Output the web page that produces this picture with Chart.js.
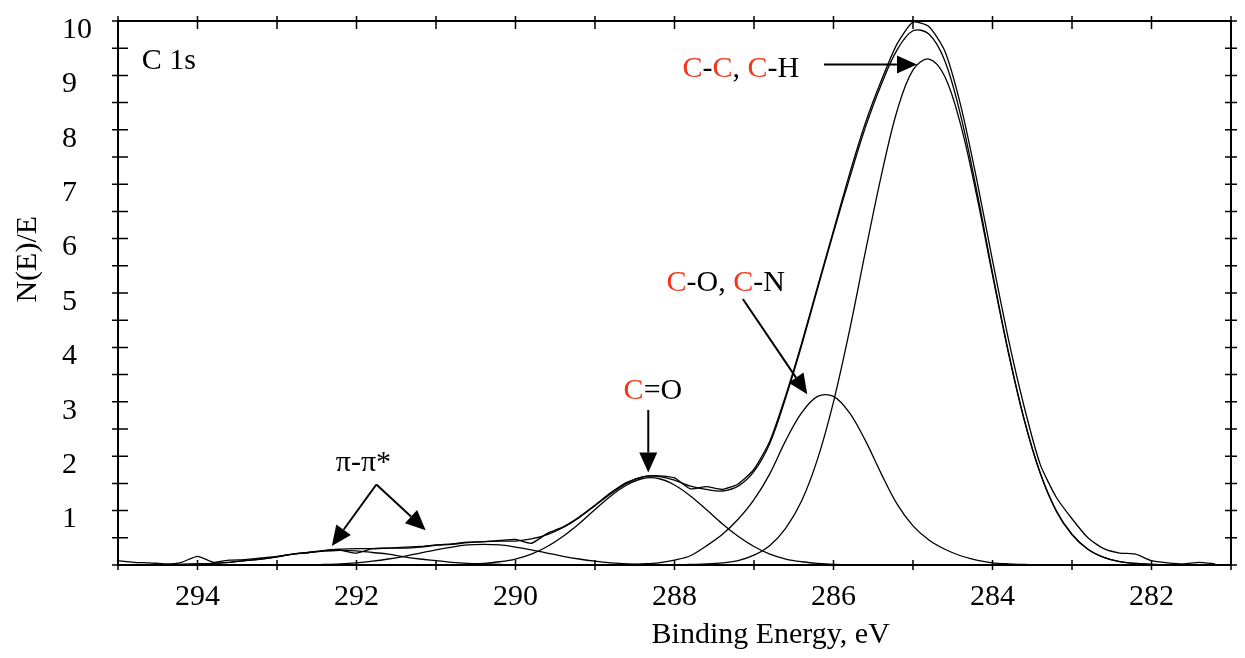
<!DOCTYPE html>
<html>
<head>
<meta charset="utf-8">
<script src="https://cdn.jsdelivr.net/npm/chart.js@4.4.1/dist/chart.umd.min.js"></script>
<style>
  html, body { margin: 0; padding: 0; background: #fff; }
  #wrap { width: 1245px; height: 658px; }
</style>
</head>
<body>
<div id="wrap"><canvas id="xpsChart" width="1245" height="658"></canvas></div>
<script>
// binding energy grid, eV (read every 0.2 eV)
const energies = [
  295.0, 294.8, 294.6, 294.4, 294.2, 294.0, 293.8, 293.6, 293.4, 293.2,
  293.0, 292.8, 292.6, 292.4, 292.2, 292.0, 291.8, 291.6, 291.4, 291.2,
  291.0, 290.8, 290.6, 290.4, 290.2, 290.0, 289.8, 289.6, 289.4, 289.2,
  289.0, 288.8, 288.6, 288.4, 288.2, 288.0, 287.8, 287.6, 287.4, 287.2,
  287.0, 286.8, 286.6, 286.4, 286.2, 286.0, 285.8, 285.6, 285.4, 285.2,
  285.0, 284.8, 284.6, 284.4, 284.2, 284.0, 283.8, 283.6, 283.4, 283.2,
  283.0, 282.8, 282.6, 282.4, 282.2, 282.0, 281.8, 281.6, 281.4, 281.2,
  281.0
];

// measured spectrum
const measured = [
  0.08, 0.05, 0.04, 0.02, 0.05, 0.16, 0.05, 0.09, 0.10, 0.13,
  0.16, 0.20, 0.23, 0.26, 0.27, 0.22, 0.30, 0.31, 0.33, 0.34,
  0.37, 0.39, 0.42, 0.43, 0.45, 0.47, 0.40, 0.58, 0.70, 0.88,
  1.10, 1.33, 1.52, 1.62, 1.64, 1.60, 1.40, 1.44, 1.39, 1.49,
  1.76, 2.28, 3.12, 4.08, 5.12, 6.15, 7.18, 8.12, 8.90, 9.58,
  9.98, 9.90, 9.45, 8.45, 7.10, 5.60, 4.15, 2.90, 1.85, 1.25,
  0.85, 0.50, 0.30, 0.22, 0.20, 0.08, 0.04, 0.02, 0.05, 0.02,
  null
];

// fitted envelope
const envelope = [
  0, 0, 0, 0, 0.01, 0.02, 0.03, 0.05, 0.08, 0.11,
  0.15, 0.20, 0.23, 0.27, 0.29, 0.30, 0.30, 0.31, 0.31, 0.33,
  0.36, 0.38, 0.41, 0.43, 0.44, 0.44, 0.48, 0.56, 0.69, 0.87,
  1.09, 1.31, 1.50, 1.62, 1.63, 1.56, 1.45, 1.39, 1.36, 1.45,
  1.72, 2.24, 3.08, 4.04, 5.08, 6.11, 7.10, 8.04, 8.83, 9.47,
  9.82, 9.76, 9.27, 8.26, 6.89, 5.37, 3.92, 2.67, 1.69, 1.00,
  0.56, 0.29, 0.14, 0.06, 0.03, 0.01, 0, 0, 0, 0,
  0
];

// fitted components
const peakCC = [
  0, 0, 0, 0, 0, 0, 0, 0, 0, 0,
  0, 0, 0, 0, 0, 0, 0, 0, 0, 0,
  0, 0, 0, 0, 0, 0, 0, 0, 0, 0,
  0, 0, 0, 0, 0, 0, 0.01, 0.02, 0.04, 0.08,
  0.18, 0.36, 0.68, 1.18, 1.95, 3.00, 4.30, 5.75, 7.15, 8.35,
  9.10, 9.30, 8.98, 8.09, 6.80, 5.33, 3.90, 2.66, 1.69, 1.00,
  0.56, 0.29, 0.14, 0.06, 0.03, 0.01, 0, 0, 0, 0,
  0
];
const peakCO = [
  0, 0, 0, 0, 0, 0, 0, 0, 0, 0,
  0, 0, 0, 0, 0, 0, 0, 0, 0, 0,
  0, 0, 0, 0, 0, 0, 0, 0, 0, 0,
  0, 0, 0.01, 0.02, 0.04, 0.09, 0.17, 0.35, 0.56, 0.84,
  1.20, 1.68, 2.29, 2.80, 3.10, 3.10, 2.80, 2.29, 1.68, 1.12,
  0.72, 0.46, 0.29, 0.17, 0.09, 0.04, 0.02, 0.01, 0, 0,
  0, 0, 0, 0, 0, 0, 0, 0, 0, 0,
  0
];
const peakCdO = [
  0, 0, 0, 0, 0, 0, 0, 0, 0, 0,
  0, 0, 0, 0, 0, 0, 0, 0, 0, 0,
  0, 0, 0.01, 0.03, 0.06, 0.11, 0.20, 0.34, 0.53, 0.76,
  1.02, 1.27, 1.47, 1.59, 1.59, 1.47, 1.27, 1.02, 0.76, 0.53,
  0.34, 0.20, 0.11, 0.06, 0.03, 0.01, 0, 0, 0, 0,
  0, 0, 0, 0, 0, 0, 0, 0, 0, 0,
  0, 0, 0, 0, 0, 0, 0, 0, 0, 0,
  0
];
const peakPi1 = [
  0, 0, 0, 0, 0, 0, 0, 0, 0, 0,
  0, 0, 0, 0.01, 0.02, 0.04, 0.07, 0.11, 0.16, 0.22,
  0.28, 0.33, 0.37, 0.38, 0.37, 0.33, 0.28, 0.22, 0.16, 0.11,
  0.07, 0.04, 0.02, 0.01, 0, 0, 0, 0, 0, 0,
  0, 0, 0, 0, 0, 0, 0, 0, 0, 0,
  0, 0, 0, 0, 0, 0, 0, 0, 0, 0,
  0, 0, 0, 0, 0, 0, 0, 0, 0, 0,
  0
];
const peakPi2 = [
  0, 0, 0, 0, 0.01, 0.02, 0.03, 0.05, 0.08, 0.11,
  0.15, 0.20, 0.23, 0.26, 0.27, 0.26, 0.23, 0.20, 0.15, 0.11,
  0.08, 0.05, 0.03, 0.02, 0.01, 0, 0, 0, 0, 0,
  0, 0, 0, 0, 0, 0, 0, 0, 0, 0,
  0, 0, 0, 0, 0, 0, 0, 0, 0, 0,
  0, 0, 0, 0, 0, 0, 0, 0, 0, 0,
  0, 0, 0, 0, 0, 0, 0, 0, 0, 0,
  0
];

const xTickLabels = [294, 292, 290, 288, 286, 284, 282];
const yTickLabels = [1, 2, 3, 4, 5, 6, 7, 8, 9, 10];

const ink = '#000';
const red = '#f5361c';
const serif = '"Liberation Serif", "Times New Roman", serif';

// text notes placed in data units (energy, intensity)
const notes = [
  { e: 294.70, v: 9.27, parts: [['C 1s', ink]] },
  { e: 287.90, v: 9.12, parts: [['C', red], ['-', ink], ['C', red], [', ', ink], ['C', red], ['-H', ink]] },
  { e: 288.10, v: 5.18, parts: [['C', red], ['-O, ', ink], ['C', red], ['-N', ink]] },
  { e: 288.64, v: 3.19, parts: [['C', red], ['=O', ink]] },
  { e: 292.26, v: 1.88, parts: [['π-π*', ink]] }
];
const arrows = [
  { from: [286.12, 9.20], to: [284.95, 9.20] },
  { from: [287.14, 4.89], to: [286.33, 3.14] },
  { from: [288.33, 2.85], to: [288.33, 1.70] },
  { from: [291.75, 1.48], to: [292.31, 0.35] },
  { from: [291.75, 1.48], to: [291.13, 0.64] }
];

function toPoints(vals) {
  return energies.map((e, i) => ({ x: e, y: vals[i] }));
}

function lineSet(label, vals, tension) {
  return {
    label: label,
    data: toPoints(vals),
    borderColor: ink,
    borderWidth: 1.3,
    pointRadius: 0,
    tension: tension,
    fill: false
  };
}

const framePlugin = {
  id: 'framePlugin',
  afterDraw(chart) {
    const ctx = chart.ctx;
    const a = chart.chartArea;
    const x = chart.scales.x;
    const y = chart.scales.y;
    ctx.save();

    // box and crossing tick marks on all four sides
    ctx.strokeStyle = ink;
    ctx.lineWidth = 2;
    ctx.strokeRect(a.left, a.top, a.right - a.left, a.bottom - a.top);
    ctx.lineWidth = 1.5;
    ctx.beginPath();
    x.ticks.forEach(t => {
      const px = x.getPixelForValue(t.value);
      ctx.moveTo(px, a.bottom - 5); ctx.lineTo(px, a.bottom + 5);
      ctx.moveTo(px, a.top - 5); ctx.lineTo(px, a.top + 8);
    });
    y.ticks.forEach(t => {
      const py = y.getPixelForValue(t.value);
      ctx.moveTo(a.left - 6, py); ctx.lineTo(a.left + 10, py);
      ctx.moveTo(a.right - 6, py); ctx.lineTo(a.right + 6, py);
    });
    ctx.stroke();

    // axis titles
    ctx.font = '30px ' + serif;
    ctx.fillStyle = ink;
    ctx.textBaseline = 'middle';
    ctx.textAlign = 'center';
    ctx.fillText('Binding Energy, eV', x.getPixelForValue(286.79), a.bottom + 70);
    ctx.save();
    ctx.translate(28, y.getPixelForValue(5.62));
    ctx.rotate(-Math.PI / 2);
    ctx.fillText('N(E)/E', 0, 0);
    ctx.restore();

    // labels
    ctx.textAlign = 'left';
    notes.forEach(n => {
      let px = x.getPixelForValue(n.e);
      const py = y.getPixelForValue(n.v);
      n.parts.forEach(([txt, col]) => {
        ctx.fillStyle = col;
        ctx.fillText(txt, px, py);
        px += ctx.measureText(txt).width;
      });
    });

    // arrows
    ctx.strokeStyle = ink;
    ctx.fillStyle = ink;
    ctx.lineWidth = 2;
    arrows.forEach(ar => {
      const x0 = x.getPixelForValue(ar.from[0]), y0 = y.getPixelForValue(ar.from[1]);
      const x1 = x.getPixelForValue(ar.to[0]), y1 = y.getPixelForValue(ar.to[1]);
      const ang = Math.atan2(y1 - y0, x1 - x0);
      const head = 20, half = 9;
      const bx = x1 - head * Math.cos(ang), by = y1 - head * Math.sin(ang);
      ctx.beginPath();
      ctx.moveTo(x0, y0);
      ctx.lineTo(bx, by);
      ctx.stroke();
      ctx.beginPath();
      ctx.moveTo(x1, y1);
      ctx.lineTo(bx + half * Math.sin(ang), by - half * Math.cos(ang));
      ctx.lineTo(bx - half * Math.sin(ang), by + half * Math.cos(ang));
      ctx.closePath();
      ctx.fill();
    });
    ctx.restore();
  }
};

const ctx = document.getElementById('xpsChart').getContext('2d');
new Chart(ctx, {
  type: 'line',
  data: {
    datasets: [
      lineSet('π-π* (2)', peakPi2, 0.35),
      lineSet('π-π* (1)', peakPi1, 0.35),
      lineSet('C=O', peakCdO, 0.35),
      lineSet('C-O, C-N', peakCO, 0.35),
      lineSet('C-C, C-H', peakCC, 0.35),
      lineSet('Envelope', envelope, 0.35),
      lineSet('Measured', measured, 0.2)
    ]
  },
  options: {
    responsive: false,
    animation: false,
    devicePixelRatio: 1,
    layout: { autoPadding: false, padding: { left: 62, right: 7, top: 17, bottom: 0 } },
    plugins: {
      legend: { display: false },
      tooltip: { enabled: false }
    },
    scales: {
      x: {
        type: 'linear',
        reverse: true,
        min: 281,
        max: 295,
        grid: { display: false, drawTicks: false },
        border: { display: false },
        afterFit: s => { s.height = 93; },
        ticks: {
          stepSize: 1,
          autoSkip: false,
          maxRotation: 0,
          padding: 14,
          color: ink,
          font: { family: serif, size: 30 },
          callback: v => xTickLabels.includes(v) ? String(v) : ''
        }
      },
      y: {
        min: 0,
        max: 10,
        grid: { display: false, drawTicks: false },
        border: { display: false },
        afterFit: s => { s.width = 56; },
        ticks: {
          stepSize: 0.5,
          autoSkip: false,
          crossAlign: 'far',
          labelOffset: 9,
          color: ink,
          font: { family: serif, size: 30 },
          callback: v => yTickLabels.includes(v) ? String(v) : ''
        }
      }
    }
  },
  plugins: [framePlugin]
});
</script>
</body>
</html>
